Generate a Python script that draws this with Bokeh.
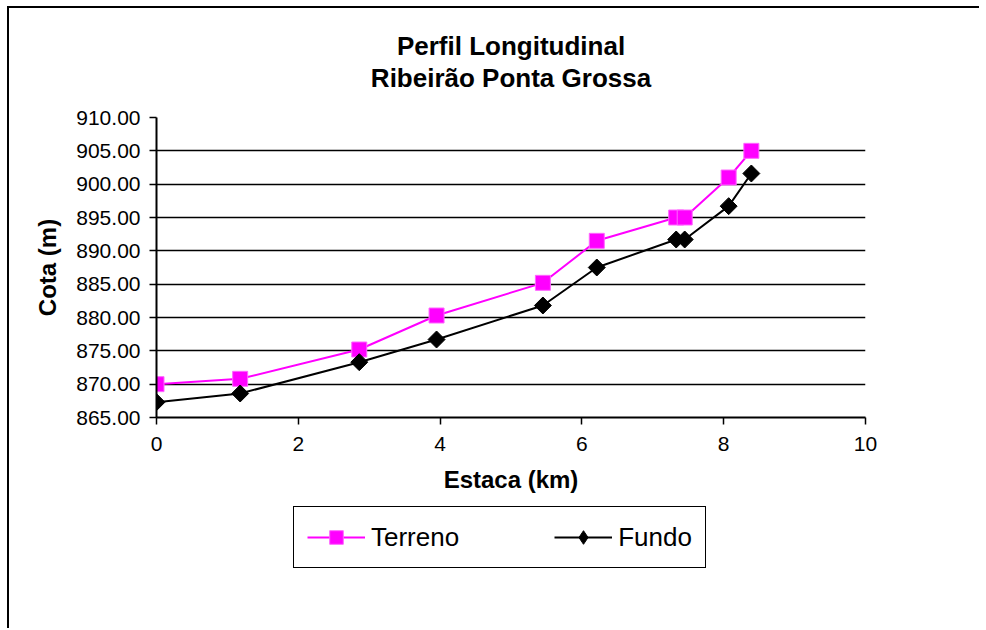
import math
from bokeh.plotting import figure
from bokeh.layouts import column
from bokeh.models import (Range1d, FixedTicker, NumeralTickFormatter, Title, Legend, LegendItem,
                          ColumnDataSource)
from bokeh.embed import file_html
from bokeh.resources import INLINE

# ---- data ----
estaca_km = [0, 1.18, 2.86, 3.95, 5.45, 6.21, 7.33, 7.45, 8.07, 8.39]
terreno = [870.0, 870.8, 875.2, 880.3, 885.2, 891.5, 895.0, 895.0, 901.0, 905.0]
fundo = [867.3, 868.6, 873.3, 876.7, 881.8, 887.5, 891.7, 891.7, 896.7, 901.6]
x_ticks = [0, 2, 4, 6, 8, 10]
y_ticks = [865, 870, 875, 880, 885, 890, 895, 900, 905, 910]
series_names = ["Terreno", "Fundo"]
title_1 = "Perfil Longitudinal"
title_2 = "Ribeirão Ponta Grossa"
x_label = "Estaca (km)"
y_label = "Cota (m)"

FONT = "Liberation Sans"
PINK = "#FF00FF"

p = figure(frame_width=709, frame_height=300, output_backend="svg", toolbar_location=None,
           x_range=Range1d(0, 10), y_range=Range1d(865, 910),
           min_border_left=147, min_border_right=114, min_border_top=109, min_border_bottom=86)
p.outline_line_color = None
p.background_fill_color = "white"
p.border_fill_color = "white"

# titles (first added -> closest to frame)
p.add_layout(Title(text=" ", align="center", text_font=FONT, text_font_size="8px",
                   standoff=14), "above")
p.add_layout(Title(text=title_2, align="center", text_font=FONT, text_font_size="26px",
                   text_font_style="bold", text_color="black", standoff=0), "above")
p.add_layout(Title(text=title_1, align="center", text_font=FONT, text_font_size="26px",
                   text_font_style="bold", text_color="black", standoff=0), "above")

# axes
p.xaxis.ticker = FixedTicker(ticks=x_ticks)
p.yaxis.ticker = FixedTicker(ticks=y_ticks)
p.yaxis.formatter = NumeralTickFormatter(format="0.00")
for ax in (p.xaxis, p.yaxis):
    ax.axis_line_color = "black"
    ax.axis_line_width = 2
    ax.major_tick_line_color = "black"
    ax.major_tick_line_width = 1.5
    ax.major_tick_in = 0
    ax.major_tick_out = 7
    ax.minor_tick_line_color = None
    ax.major_label_text_font = FONT
    ax.major_label_text_font_size = "21px"
    ax.major_label_text_color = "black"
    ax.axis_label_text_font = FONT
    ax.axis_label_text_font_size = "24px"
    ax.axis_label_text_font_style = "bold"
    ax.axis_label_text_color = "black"
p.xaxis.axis_label = x_label
p.yaxis.axis_label = y_label
p.xaxis.major_label_standoff = 12
p.xaxis.axis_label_standoff = 12
p.yaxis.major_label_standoff = 9
p.yaxis.axis_label_standoff = 12

p.xgrid.grid_line_color = None
p.ygrid.grid_line_color = "black"
p.ygrid.grid_line_width = 1.5
p.ygrid.grid_line_alpha = 1.0

src = ColumnDataSource(dict(x=estaca_km, t=terreno, f=fundo))


def draw(fig, legend_copy=False):
    l1 = fig.line("x", "t", source=src, line_color=PINK, line_width=2)
    m1 = fig.scatter("x", "t", source=src, marker="square", size=15, fill_color=PINK,
                     line_color="#FF66FF", line_width=1)
    l2 = fig.line("x", "f", source=src, line_color="black", line_width=2)
    if legend_copy:
        m2 = fig.scatter("x", "f", source=src, marker="diamond", size=18,
                         fill_color="black", line_color="black")
    else:
        m2 = fig.scatter("x", "f", source=src, marker="square", size=12, angle=math.pi / 4,
                         fill_color="black", line_color="black")
    return (l1, m1), (l2, m2)


draw(p)

# legend strip below the chart (its own copies of the series lie outside its view)
LH = 125
leg = figure(width=970, height=LH, output_backend="svg", toolbar_location=None,
             x_range=Range1d(100, 101), y_range=Range1d(0, 1),
             min_border=0, min_border_left=0, min_border_right=0,
             min_border_top=0, min_border_bottom=0)
leg.axis.visible = False
leg.grid.visible = False
leg.outline_line_color = None
leg.background_fill_color = "white"
leg.border_fill_color = "white"
(r_t, r_f) = draw(leg, legend_copy=True)

legend = Legend(items=[LegendItem(label=series_names[0], renderers=list(r_t)),
                       LegendItem(label=series_names[1], renderers=list(r_f))],
                orientation="horizontal", location=(137, LH - 65),
                label_text_font=FONT, label_text_font_size="26px", label_text_color="black",
                glyph_width=58, glyph_height=34, label_standoff=6, spacing=95,
                padding=13, margin=0,
                border_line_color="black", border_line_width=1.5, border_line_alpha=1.0,
                background_fill_color="white", background_fill_alpha=1.0)
leg.add_layout(legend, "center")

layout = column(p, leg, spacing=0)
layout.styles = {"border-top": "2px solid black", "border-left": "2px solid black",
                 "margin-left": "7px", "margin-top": "6px"}

open("out.html", "w").write(file_html(layout, INLINE))
